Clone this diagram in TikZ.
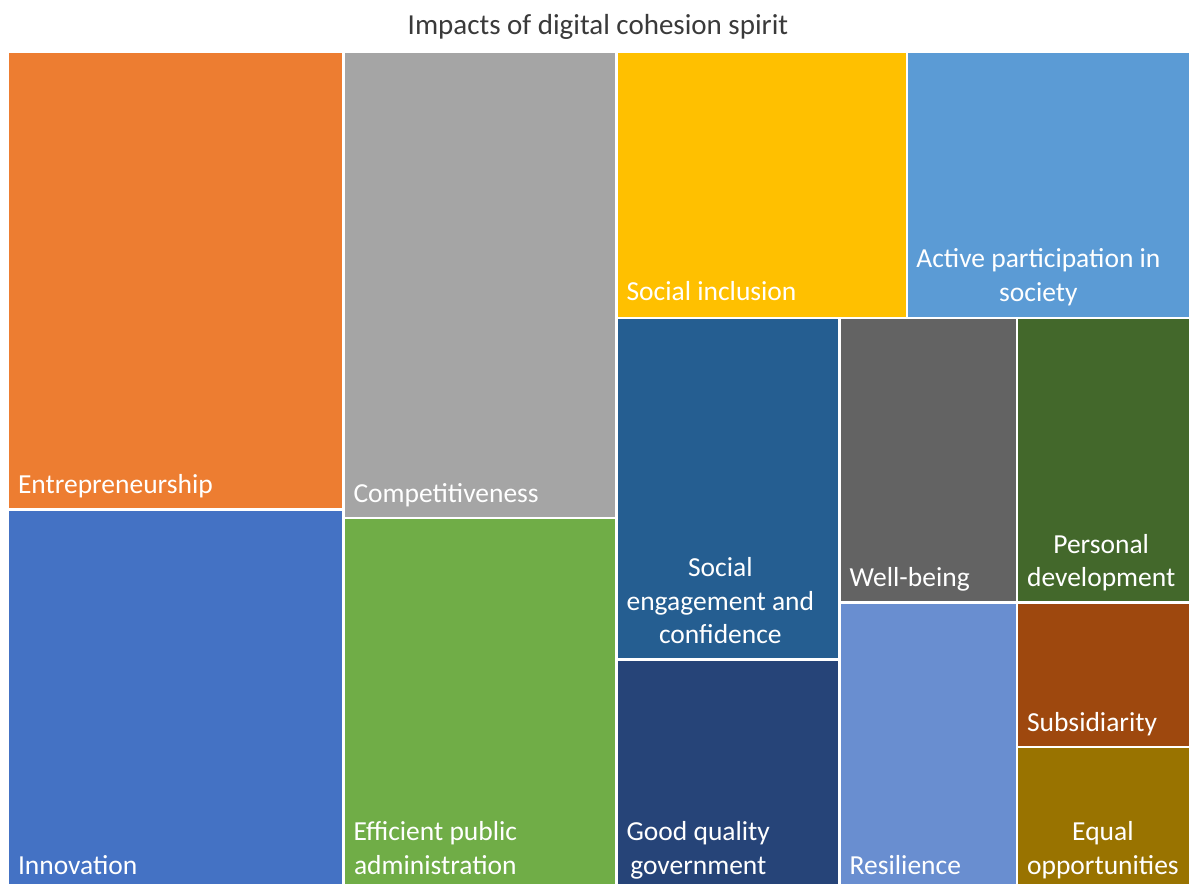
\documentclass[tikz,border=0pt]{standalone}
\usepackage{fontspec}
\setmainfont{Carlito}
\definecolor{cEnt}{HTML}{ED7D31}
\definecolor{cInn}{HTML}{4472C4}
\definecolor{cComp}{HTML}{A5A5A5}
\definecolor{cEff}{HTML}{70AD47}
\definecolor{cSi}{HTML}{FFC000}
\definecolor{cAp}{HTML}{5B9BD5}
\definecolor{cSe}{HTML}{255E91}
\definecolor{cGq}{HTML}{264478}
\definecolor{cWb}{HTML}{636363}
\definecolor{cRes}{HTML}{698ED0}
\definecolor{cPd}{HTML}{43682B}
\definecolor{cSub}{HTML}{9E480E}
\definecolor{cEq}{HTML}{997300}
\definecolor{cTitle}{HTML}{3A3A3A}
\begin{document}
\begin{tikzpicture}[x=1pt,y=-1pt,
  tile/.style={inner sep=0pt,outer sep=0pt,draw=none},
  lbl/.style={inner sep=0pt,outer sep=0pt,anchor=south west,text=white,align=center,
    text depth=0pt,font=\fontsize{27.5}{33.5}\selectfont},
  ttl/.style={inner sep=0pt,anchor=base,text=cTitle,font=\fontsize{29}{34}\selectfont}]
\useasboundingbox (0,0) rectangle (1189,884);
% tiles: left, top, right, bottom
\newcommand{\tilebox}[6]{%
  \fill[#5] (#1,#2) rectangle (#3,#4);
  \node[tile,minimum width=#3pt-#1pt,minimum height=#4pt-#2pt,anchor=north west] (#6) at (#1,#2) {};
}
\tilebox{9}{53.3}{342.3}{508.3}{cEnt}{ent}
\tilebox{9}{510.7}{342.3}{884}{cInn}{inn}
\tilebox{344.5}{53.3}{615.2}{517}{cComp}{comp}
\tilebox{344.5}{519.3}{615.2}{884}{cEff}{eff}
\tilebox{617.6}{53.3}{906}{316.8}{cSi}{si}
\tilebox{908.4}{53.3}{1189}{316.8}{cAp}{ap}
\tilebox{617.6}{319.2}{838.3}{658.4}{cSe}{se}
\tilebox{617.6}{660.8}{838.3}{884}{cGq}{gq}
\tilebox{840.7}{319.2}{1015.7}{601.4}{cWb}{wb}
\tilebox{840.7}{603.8}{1015.7}{884}{cRes}{res}
\tilebox{1018.1}{319.2}{1189}{601.4}{cPd}{pd}
\tilebox{1018.1}{603.8}{1189}{745.8}{cSub}{sub}
\tilebox{1018.1}{748.2}{1189}{884}{cEq}{eq}
% labels
\node[lbl] (lent) at ([shift={(9.0pt,15.2pt)}]ent.south west) {Entrepreneurship};
\node[lbl] (linn) at ([shift={(9.0pt,10pt)}]inn.south west) {Innovation};
\node[lbl] (lcomp) at ([shift={(9.0pt,14.7pt)}]comp.south west) {Competitiveness};
\node[lbl] (leff) at ([shift={(9.0pt,10pt)}]eff.south west) {Efficient public\\administration};
\node[lbl] (lsi) at ([shift={(9.0pt,16pt)}]si.south west) {Social inclusion};
\node[lbl] (lap) at ([shift={(8.0pt,15.5pt)}]ap.south west) {Active participation in\\society};
\node[lbl] (lse) at ([shift={(9.0pt,14.7pt)}]se.south west) {Social\\engagement and\\confidence};
\node[lbl] (lgq) at ([shift={(9.0pt,10pt)}]gq.south west) {Good quality\\government};
\node[lbl] (lwb) at ([shift={(9.0pt,14.7pt)}]wb.south west) {Well-being};
\node[lbl] (lres) at ([shift={(9.0pt,10pt)}]res.south west) {Resilience};
\node[lbl] (lpd) at ([shift={(9.0pt,14.7pt)}]pd.south west) {Personal\\development};
\node[lbl] (lsub) at ([shift={(9.0pt,14.7pt)}]sub.south west) {Subsidiarity};
\node[lbl] (leq) at ([shift={(9.0pt,10pt)}]eq.south west) {Equal\\opportunities};
% title
\node[ttl] (title) at (598,34) {Impacts of digital cohesion spirit};
\end{tikzpicture}
\end{document}
